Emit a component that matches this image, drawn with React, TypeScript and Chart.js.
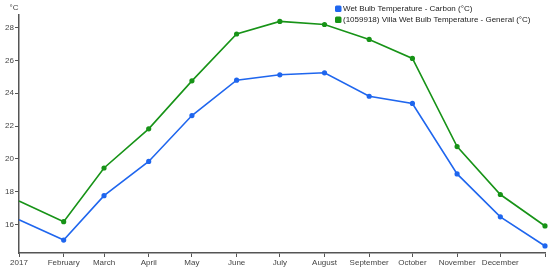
import React, { useEffect, useRef } from "react";
import { Chart, registerables } from "chart.js";

Chart.register(...registerables);

const monthDays = [0, 31, 59, 90, 120, 151, 181, 212, 243, 273, 304, 334, 365];
const monthLabels = ["2017", "February", "March", "April", "May", "June", "July", "August", "September", "October", "November", "December", ""];
const carbonValues = [16.28, 15.04, 17.75, 19.84, 22.64, 24.8, 25.13, 25.25, 23.82, 23.38, 19.08, 16.46, 14.68];
const villaValues = [17.42, 16.16, 19.44, 21.83, 24.76, 27.62, 28.39, 28.2, 27.29, 26.13, 20.75, 17.82, 15.9];
const yTicks = [16, 18, 20, 22, 24, 26, 28];
const seriesNames = ["Wet Bulb Temperature - Carbon (°C)", "(1059918) Villa Wet Bulb Temperature - General (°C)"];
const seriesColors = ["#1f66ee", "#179317"];
const FONT = "Arial, 'Liberation Sans', sans-serif";

export default function App() {
  const ref = useRef<HTMLCanvasElement | null>(null);
  useEffect(() => {
    if (!ref.current) return;
    const overlay = {
      id: "overlay",
      afterDraw(chart: any) {
        const ctx = chart.ctx;
        ctx.save();
        ctx.font = `8px ${FONT}`;
        ctx.fillStyle = "#444";
        ctx.textAlign = "center";
        ctx.textBaseline = "middle";
        ctx.fillText("°C", 14, 8);
        ctx.textAlign = "left";
        seriesNames.forEach((name, i) => {
          const y = 9 + i * 11;
          ctx.fillStyle = seriesColors[i];
          ctx.beginPath();
          (ctx as any).roundRect(335, y - 3.5, 6.5, 6.5, 1.5);
          ctx.fill();
          ctx.fillStyle = "#222";
          ctx.fillText(name, 343, y);
        });
        ctx.restore();
      },
    };
    const chart = new Chart(ref.current, {
      type: "line",
      data: {
        datasets: [carbonValues, villaValues].map((vals, i) => ({
          label: seriesNames[i],
          data: vals.map((v, j) => ({ x: monthDays[j], y: v })),
          borderColor: seriesColors[i],
          backgroundColor: seriesColors[i],
          borderWidth: 1.6,
          pointRadius: vals.map((_, j) => (j === 0 ? 0 : 1.8)),
          pointHoverRadius: 1.8,
          tension: 0,
          clip: false,
        })),
      },
      options: {
        animation: false,
        responsive: true,
        maintainAspectRatio: false,
        layout: { padding: { top: 15, right: 5, left: 0, bottom: 0 } },
        plugins: { legend: { display: false }, tooltip: { enabled: false } },
        scales: {
          x: {
            type: "linear",
            min: 0,
            max: 365,
            afterBuildTicks: (scale: any) => {
              scale.ticks = monthDays.map((v) => ({ value: v }));
            },
            afterFit: (scale: any) => {
              scale.height = 19;
            },
            ticks: {
              autoSkip: false,
              maxRotation: 0,
              padding: 1,
              color: "#444",
              font: { size: 8, family: FONT },
              callback: (v: any) => {
                const idx = monthDays.indexOf(Number(v));
                return idx >= 0 ? monthLabels[idx] : "";
              },
            },
            grid: { drawOnChartArea: false, drawTicks: true, tickLength: 4, color: "#555", lineWidth: 1 },
            border: { display: true, color: "#555", width: 1.5 },
          },
          y: {
            min: 14.25,
            max: 28.78,
            afterBuildTicks: (scale: any) => {
              scale.ticks = yTicks.map((v) => ({ value: v }));
            },
            afterFit: (scale: any) => {
              scale.width = 19;
            },
            ticks: {
              padding: 1,
              color: "#444",
              font: { size: 8, family: FONT },
              callback: (v: any) => String(v),
            },
            grid: { drawOnChartArea: false, drawTicks: true, tickLength: 4, color: "#555", lineWidth: 1 },
            border: { display: true, color: "#555", width: 1.5 },
          },
        },
      },
      plugins: [overlay],
    } as any);
    return () => chart.destroy();
  }, []);
  return (
    <div style={{ position: "absolute", left: 0, top: 0, width: 550, height: 272, background: "#fff" }}>
      <canvas ref={ref} />
    </div>
  );
}
